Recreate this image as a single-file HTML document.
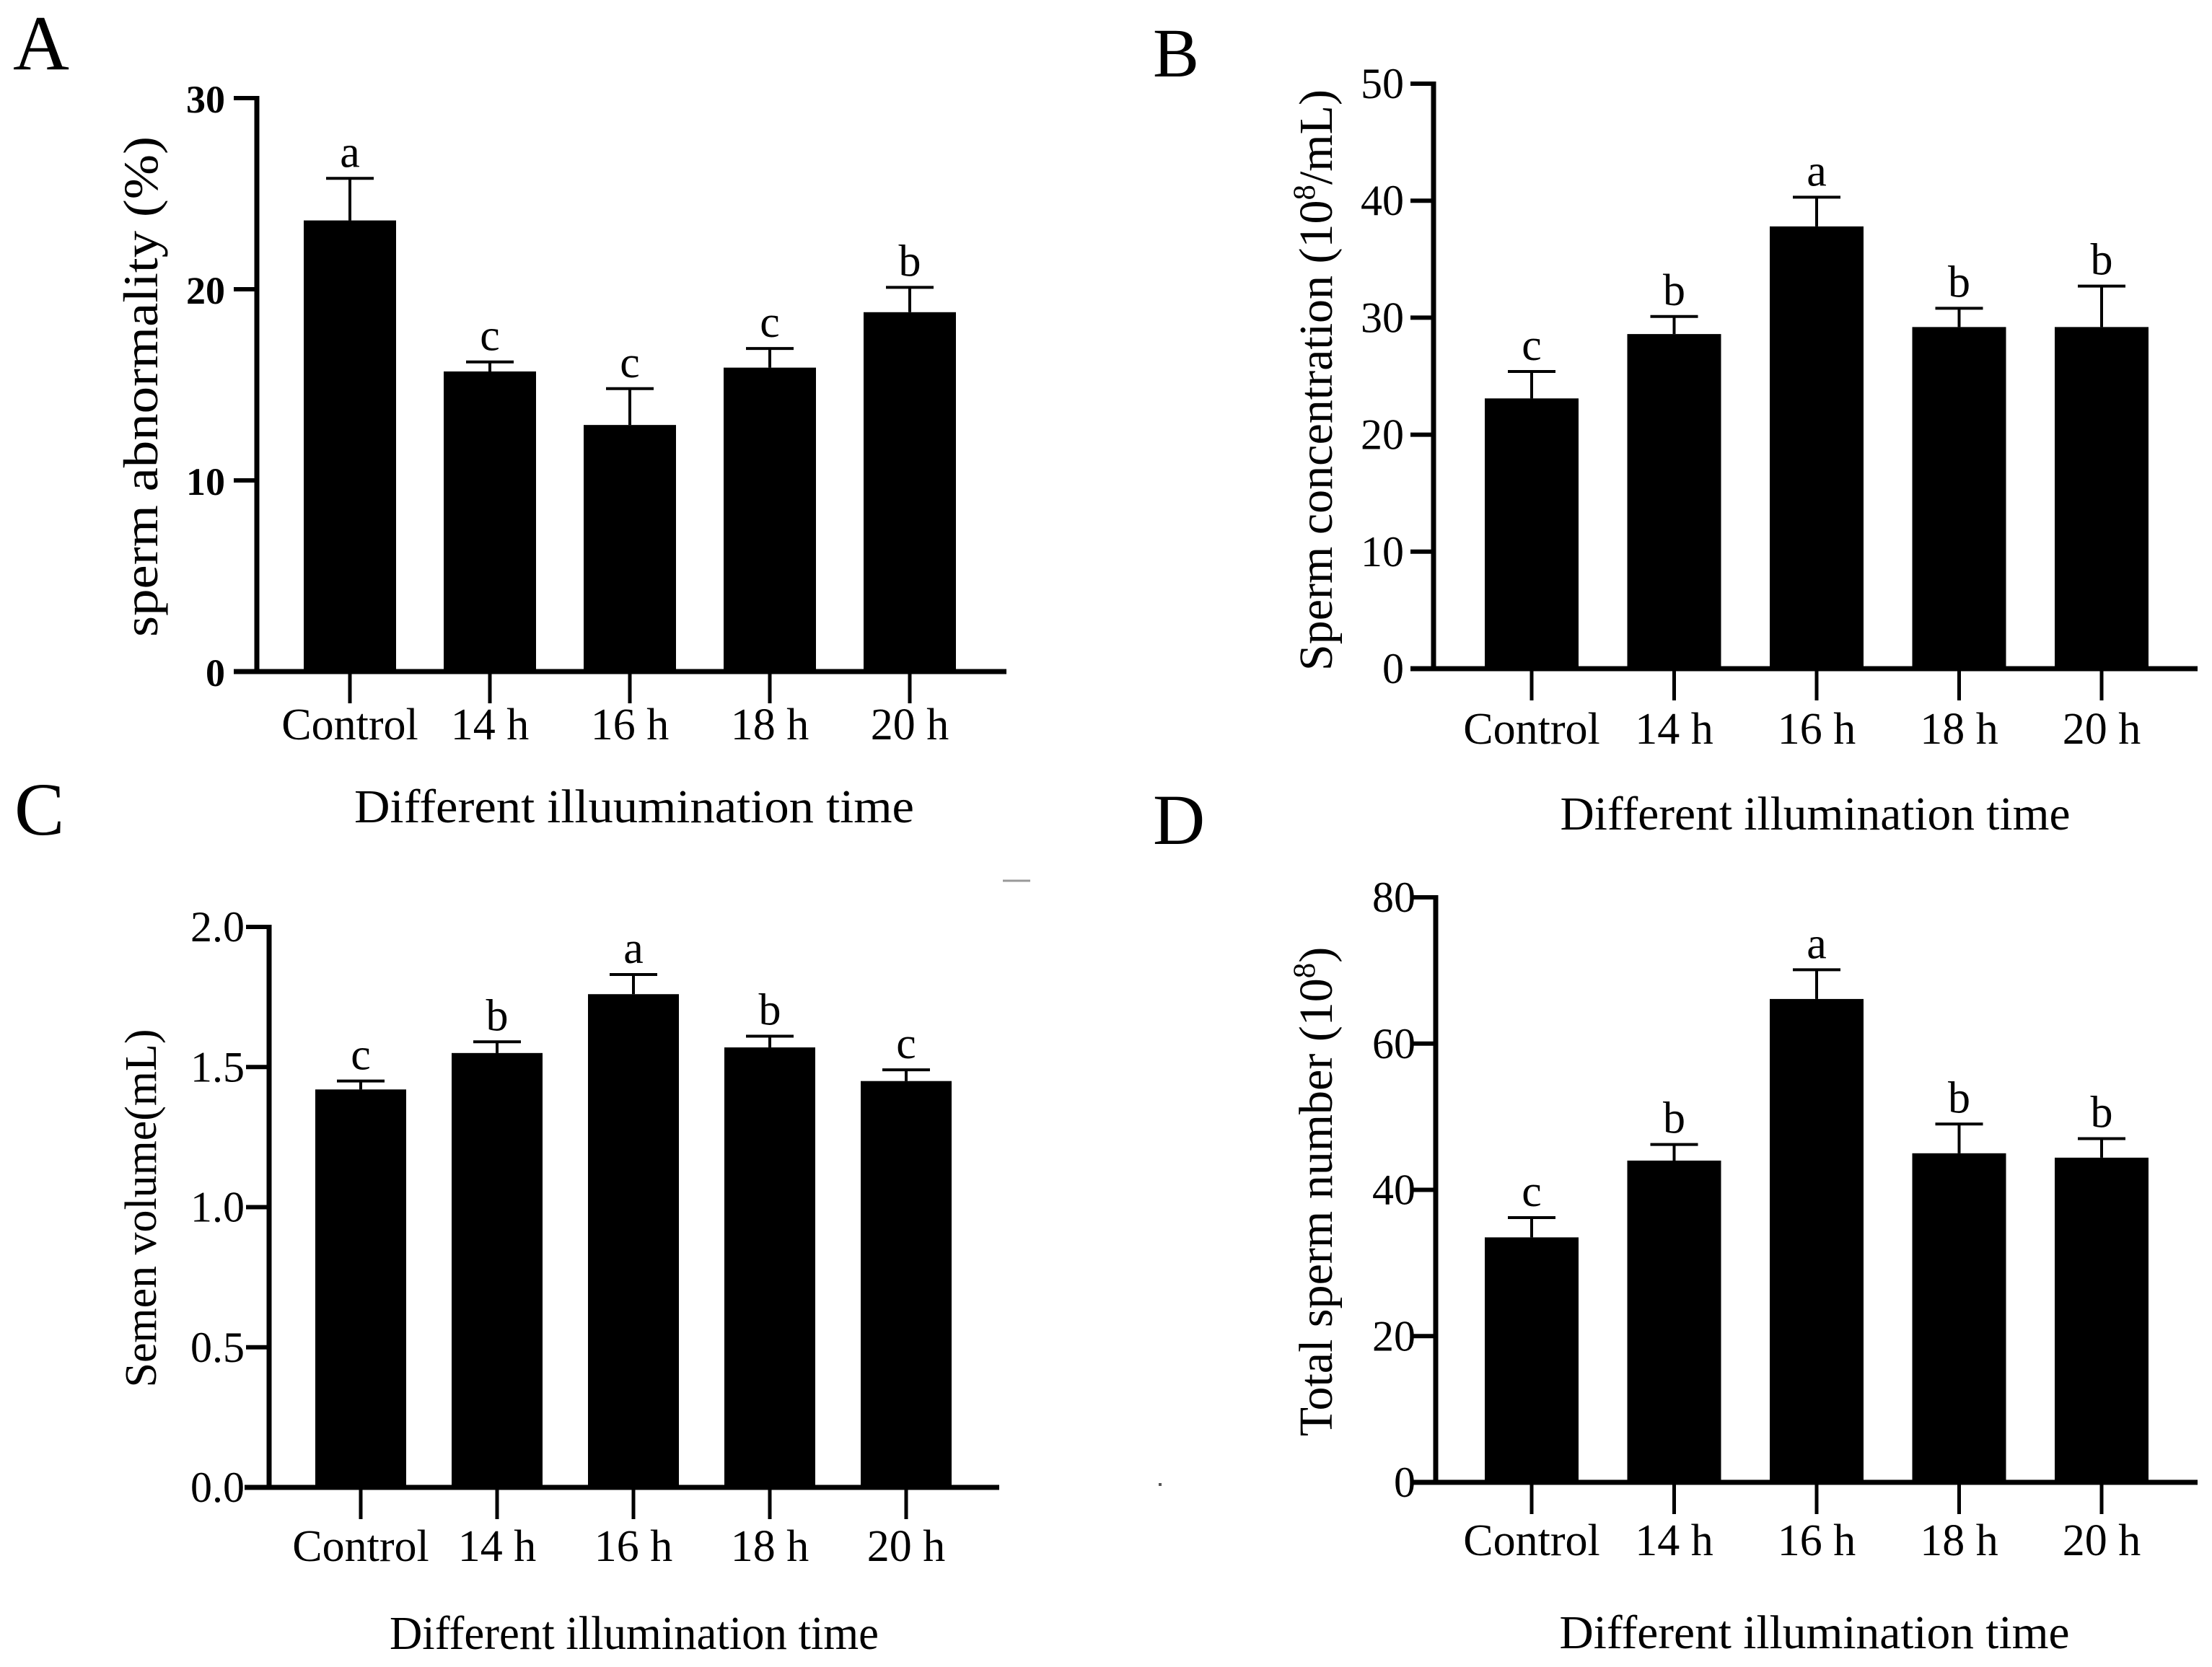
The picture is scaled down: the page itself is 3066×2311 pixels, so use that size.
<!DOCTYPE html>
<html><head><meta charset="utf-8"><style>
html,body{margin:0;padding:0;background:#fff;}
svg{display:block;font-family:"Liberation Serif",serif;}
</style></head><body>
<svg id="fig" width="3066" height="2311" viewBox="0 0 3066 2311">
<rect width="3066" height="2311" fill="#fff"/>
<text x="18" y="96" font-size="108">A</text>
<text x="1598" y="106" font-size="96">B</text>
<text x="20" y="1157" font-size="104">C</text>
<text x="1598" y="1170" font-size="100">D</text>
<line x1="1390" y1="1221" x2="1428" y2="1221" stroke="#999" stroke-width="3"/>
<rect x="1606" y="2056" width="4" height="4" fill="#555"/>
</svg>
<script>
const categories = ["Control","14 h","16 h","18 h","20 h"];
const aValues = [23.6, 15.7, 12.9, 15.9, 18.8];
const aErrors = [25.8, 16.2, 14.8, 16.9, 20.1];
const aLetters = ["a","c","c","c","b"];
const aTicks = [0,10,20,30];
const bValues = [23.1, 28.6, 37.8, 29.2, 29.2];
const bErrors = [25.4, 30.1, 40.3, 30.8, 32.7];
const bLetters = ["c","b","a","b","b"];
const bTicks = [0,10,20,30,40,50];
const cValues = [1.42, 1.55, 1.76, 1.57, 1.45];
const cErrors = [1.45, 1.59, 1.83, 1.61, 1.49];
const cLetters = ["c","b","a","b","c"];
const cTicks = [0.0,0.5,1.0,1.5,2.0];
const cTickLabels = ["0.0","0.5","1.0","1.5","2.0"];
const dValues = [33.5, 44.0, 66.1, 45.0, 44.4];
const dErrors = [36.2, 46.2, 70.1, 49.0, 47.0];
const dLetters = ["c","b","a","b","b"];
const dTicks = [0,20,40,60,80];

const NS = "http://www.w3.org/2000/svg";
const svg = document.getElementById("fig");
function mk(tag, attrs, parent){
  const e = document.createElementNS(NS, tag);
  for (const k in attrs) e.setAttribute(k, attrs[k]);
  (parent||svg).appendChild(e);
  return e;
}
function panel(p){
  const g = mk("g", {});
  
  
  const y = v => p.y0 - (v - p.min) / (p.max - p.min) * (p.y0 - p.yTop);
  const bx = i => p.xFirst + i * p.step;
  // bars + error bars
  p.values.forEach((v,i)=>{
    const cx = bx(i);
    const r = mk("rect", {x: cx - p.bw/2, y: y(v), width: p.bw, height: p.y0 - y(v), fill: "#000"}, g);
    
    
    const ey = y(p.errors[i]);
    const el = mk("path", {d: `M${cx} ${y(v)}V${ey}M${cx-33} ${ey}H${cx+33}`, stroke: "#000", "stroke-width": 4, fill: "none"}, g);
    
    
    const t = mk("text", {x: cx, y: ey - 16, "font-size": 62, "text-anchor": "middle"}, g);
    t.textContent = p.letters[i];
    
    
    const tk = mk("line", {x1: cx, y1: p.y0, x2: cx, y2: p.y0 + 44, stroke: "#000", "stroke-width": 5}, g);
    
    
    const cl = mk("text", {x: cx, y: p.catY, "font-size": 62, "text-anchor": "middle"}, g);
    cl.textContent = categories[i];
    
    
  });
  // axes
  const ya = mk("line", {x1: p.ax, y1: p.yTop - 3, x2: p.ax, y2: p.y0 + 3, stroke: "#000", "stroke-width": 7}, g);
  
  
  const xa = mk("line", {x1: p.xStart, y1: p.y0, x2: p.xEnd, y2: p.y0, stroke: "#000", "stroke-width": 7}, g);
  
  
  p.ticks.forEach((tv,i)=>{
    const yy = y(tv);
    const tl = mk("line", {x1: p.ax - 32, y1: yy, x2: p.ax, y2: yy, stroke: "#000", "stroke-width": 6}, g);
    
    
    const tt = mk("text", {x: p.tickRight, y: yy + 20, "font-size": p.tickFont, "text-anchor": "end", "font-weight": p.bold ? "bold" : "normal"}, g);
    tt.textContent = p.tickLabels ? p.tickLabels[i] : String(tv);
    
    
  });
  const xt = mk("text", {x: p.xtX, y: p.xtY, "font-size": 66, "text-anchor": "middle", textLength: p.xtLen, lengthAdjust: "spacingAndGlyphs"}, g);
  xt.textContent = p.xTitle;
  
  
  const yt = mk("text", {x: 0, y: 0, "font-size": p.ytFont, "text-anchor": "middle", transform: `translate(${p.ytX},${p.ytY}) rotate(-90)`}, g);
  if (p.sup) {
    const a = mk("tspan", {}, yt); a.textContent = p.yTitle[0];
    const s = mk("tspan", {dy: -24, "font-size": p.ytFont*0.65}, yt); s.textContent = "8";
    const b = mk("tspan", {dy: 24}, yt); b.textContent = p.yTitle[1];
  } else {
    yt.setAttribute("textLength", p.ytLen);
    yt.setAttribute("lengthAdjust", "spacingAndGlyphs");
    yt.textContent = p.yTitle;
  }
  
  
}
panel({name:"panel-a-sperm-abnormality", values:aValues, errors:aErrors, letters:aLetters, ticks:aTicks, min:0, max:30,
  y0:931, yTop:136, ax:356, xStart:324, xEnd:1395, xFirst:485, step:194, bw:128, catY:1025, tickRight:312, tickFont:54, bold:true,
  xTitle:"Different illuumination time", xtX:879, xtY:1140, xtLen:776, yTitle:"sperm abnormality (%)", ytX:218, ytY:536, ytFont:68, ytLen:694});
panel({name:"panel-b-sperm-concentration", values:bValues, errors:bErrors, letters:bLetters, ticks:bTicks, min:0, max:50,
  y0:927, yTop:116, ax:1987, xStart:1955, xEnd:3046, xFirst:2123, step:197.5, bw:130, catY:1031, tickRight:1946, tickFont:60, bold:false,
  xTitle:"Different illumination time", xtX:2516, xtY:1150, xtLen:707, yTitle:["Sperm concentration (10","/mL)"], sup:true, ytX:1846, ytY:527, ytFont:66});
panel({name:"panel-c-semen-volume", values:cValues, errors:cErrors, letters:cLetters, ticks:cTicks, tickLabels:cTickLabels, min:0, max:2,
  y0:2062, yTop:1285, ax:373, xStart:339, xEnd:1385, xFirst:500, step:189, bw:126, catY:2164, tickRight:339, tickFont:60, bold:false,
  xTitle:"Different illumination time", xtX:879, xtY:2286, xtLen:678, yTitle:"Semen volume(mL)", ytX:216, ytY:1675, ytFont:62, ytLen:497});
panel({name:"panel-d-total-sperm-number", values:dValues, errors:dErrors, letters:dLetters, ticks:dTicks, min:0, max:80,
  y0:2055, yTop:1244, ax:1990, xStart:1955, xEnd:3046, xFirst:2123, step:197.5, bw:130, catY:2156, tickRight:1962, tickFont:60, bold:false,
  xTitle:"Different illumination time", xtX:2515, xtY:2285, xtLen:707, yTitle:["Total sperm number (10",")"], sup:true, ytX:1846, ytY:1652, ytFont:66});
</script>
</body></html>
